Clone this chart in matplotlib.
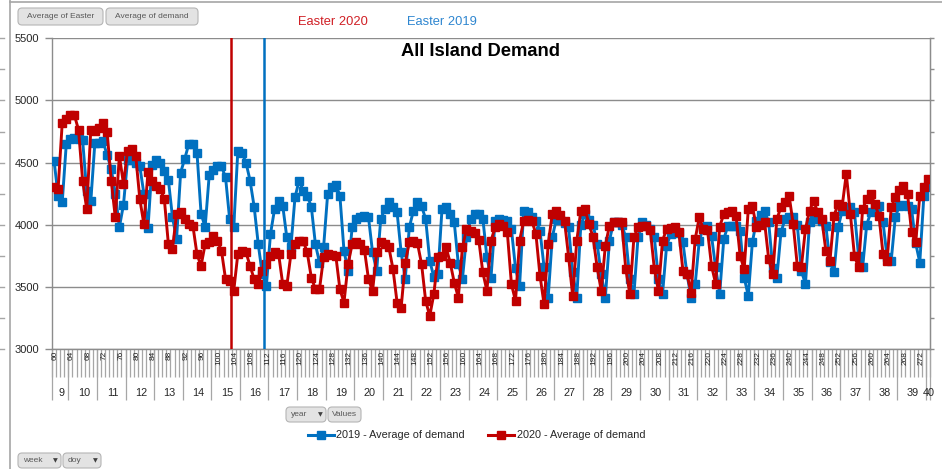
import matplotlib
matplotlib.use("Agg")
import matplotlib.pyplot as plt
from matplotlib.patches import FancyBboxPatch
from matplotlib.lines import Line2D
from matplotlib.collections import LineCollection

plt.rcParams['font.family'] = ['Liberation Sans', 'DejaVu Sans']

# ---------------- data ----------------
doy = list(range(60, 275))

demand_2019 = [
    4516, 4234, 4180, 4650, 4690, 4700, 4690, 4680, 4270, 4190,
    4660, 4660, 4670, 4560, 4450, 4250, 3980, 4160, 4520, 4520,
    4500, 4470, 4250, 3970, 4480, 4520, 4500, 4430, 4360, 4060,
    3885, 4420, 4530, 4650, 4650, 4580, 4090, 3980, 4400, 4440,
    4470, 4470, 4380, 4045, 3980, 4590, 4580, 4500, 4355, 4145,
    3845, 3600, 3510, 3925, 4126, 4194, 4153, 3898, 3820, 4220,
    4355, 4274, 4234, 4145, 3844, 3696, 3817, 4247, 4306, 4323,
    4234, 3790, 3629, 3979, 4046, 4059, 4073, 4060, 3777, 3629,
    4046, 4126, 4180, 4145, 4100, 3777, 3562, 3979, 4113, 4180,
    4150, 4046, 3710, 3580, 3602, 4126, 4140, 4086, 4019, 3683,
    3562, 3900, 4046, 4086, 4086, 4050, 3737, 3575, 4032, 4046,
    4040, 4032, 3965, 3650, 3508, 4113, 4100, 4060, 4032, 3950,
    3656, 3414, 3898, 4046, 4040, 4010, 3980, 3616, 3414, 4000,
    4086, 4040, 4000, 3844, 3600, 3414, 3871, 4019, 4019, 4000,
    3900, 3560, 3440, 3898, 4019, 4000, 3965, 3900, 3562, 3441,
    3831, 3925, 3950, 3930, 3858, 3600, 3414, 3522, 3871, 3978,
    3992, 3911, 3656, 3446, 3884, 3990, 3992, 3990, 3950, 3575,
    3427, 3858, 4032, 4080, 4113, 4019, 3650, 3575, 3938, 4046,
    4059, 4059, 4000, 3629, 3522, 4019, 4050, 4046, 4030, 3992,
    3700, 3616, 3978, 4113, 4130, 4140, 4100, 3750, 3656, 4000,
    4100, 4153, 4150, 4019, 3737, 3710, 4059, 4153, 4160, 4150,
    4126, 3850, 3696, 4234, 4300,
]

demand_2020 = [
    4300, 4290, 4817, 4852, 4879, 4879, 4763, 4355, 4126, 4763,
    4758, 4780, 4817, 4745, 4355, 4059, 4556, 4328, 4597, 4610,
    4556, 4207, 4005, 4422, 4355, 4315, 4288, 4207, 3844, 3804,
    4086, 4100, 4046, 4005, 3992, 3763, 3669, 3844, 3857, 3911,
    3871, 3790, 3562, 3548, 3468, 3763, 3790, 3777, 3669, 3562,
    3522, 3629, 3683, 3750, 3777, 3763, 3522, 3508, 3763, 3844,
    3871, 3871, 3777, 3575, 3481, 3481, 3737, 3763, 3760, 3750,
    3481, 3374, 3683, 3844, 3858, 3844, 3800, 3562, 3468, 3777,
    3858, 3844, 3817, 3643, 3374, 3333, 3696, 3858, 3871, 3850,
    3683, 3387, 3266, 3441, 3737, 3750, 3817, 3696, 3535, 3414,
    3817, 3965, 3952, 3930, 3880, 3616, 3468, 3871, 3978, 4005,
    3990, 3938, 3522, 3387, 3871, 4032, 4040, 4032, 3925, 3589,
    3360, 3844, 4086, 4113, 4080, 4032, 3742, 3427, 3871, 4113,
    4126, 4005, 3898, 3656, 3468, 3831, 3992, 4019, 4025, 4019,
    3643, 3441, 3898, 3978, 3992, 3992, 3960, 3643, 3468, 3871,
    3965, 3975, 3978, 3938, 3629, 3602, 3454, 3884, 4059, 3965,
    3960, 3670, 3527, 3984, 4086, 4100, 4113, 4073, 3750, 3643,
    4126, 4153, 3978, 4000, 4019, 3723, 3602, 4046, 4140, 4180,
    4234, 4005, 3670, 3661, 3965, 4113, 4194, 4100, 4046, 3790,
    3710, 4073, 4167, 4150, 4409, 4086, 3750, 3656, 4126, 4207,
    4247, 4167, 4073, 3763, 3710, 4140, 4220, 4280, 4314, 4247,
    3938, 3858, 4234, 4301, 4368,
]

easter_2020_doy = 103
easter_2019_doy = 111
y_ticks = [3000, 3500, 4000, 4500, 5000, 5500]
doy_tick_labels = doy[::4]
# Excel WEEKNUM of each day-of-year category
week_of_doy = [9 if d < 64 else 10 + (d - 64) // 7 for d in doy]

# ---------------- styling ----------------
BLUE = '#0070C0'
RED = '#C00000'
GRID = '#8C8C8C'
SEP = '#A6A6A6'
TXT = '#262626'

W, H = 942, 469
fig = plt.figure(figsize=(W / 100, H / 100), dpi=100)
fig.patch.set_facecolor('white')

def fx(x):
    return x / W

def fy(y):
    return 1 - y / H

# pixel-space overlay for decorations
bg = fig.add_axes([0, 0, 1, 1])
bg.set_xlim(0, W)
bg.set_ylim(H, 0)
bg.axis('off')
bg.patch.set_alpha(0)

PL, PR, PT, PB = 52, 930, 38.3, 349
ax = fig.add_axes([fx(PL), fy(PB), (PR - PL) / W, (PB - PT) / H])
ax.patch.set_alpha(0)

ax.plot(doy, demand_2019, color=BLUE, lw=2.1, marker='s', ms=6.0,
        mec=BLUE, mfc=BLUE, zorder=3, label='2019 - Average of demand')
ax.plot(doy, demand_2020, color=RED, lw=2.1, marker='s', ms=6.0,
        mec=RED, mfc=RED, zorder=4, label='2020 - Average of demand')
ax.axvline(easter_2020_doy + 0.3, color=RED, lw=1.8, zorder=5)
ax.axvline(easter_2019_doy + 0.3, color=BLUE, lw=1.8, zorder=5)

ax.set_xlim(59.5, 274.5)
ax.set_ylim(3000, 5500)
ax.set_yticks(y_ticks)
ax.set_yticklabels([str(v) for v in y_ticks])
ax.yaxis.grid(True, color=GRID, lw=1.0)
ax.set_axisbelow(True)
ax.set_xticks([])
ax.tick_params(axis='y', direction='out', length=5, width=1, color=GRID,
               labelsize=8, labelcolor=TXT, pad=4.2)
ax.spines['top'].set_visible(False)
for s in ['left', 'bottom', 'right']:
    ax.spines[s].set_color(GRID)
    ax.spines[s].set_linewidth(1.0)

# secondary axis ticks (Easter series axis, labels hidden)
ax2 = ax.twinx()
ax2.set_ylim(0, 10)
ax2.set_yticks(range(11))
ax2.set_yticklabels([])
ax2.tick_params(axis='y', direction='out', length=3, width=1, color=GRID)
for s in ['top', 'left', 'bottom']:
    ax2.spines[s].set_visible(False)
ax2.spines['right'].set_color(GRID)

# multi-level category axis
trans = ax.get_xaxis_transform()
ph = PB - PT
short = -(377 - PB) / ph
long_ = -(400 - PB) / ph
segs = []
for i in range(len(doy) + 1):
    b = doy[0] - 0.5 + i
    segs.append([(b, 0), (b, short)])
week_bounds = [doy[0] - 0.5]
for i in range(1, len(doy)):
    if week_of_doy[i] != week_of_doy[i - 1]:
        week_bounds.append(doy[i] - 0.5)
week_bounds.append(doy[-1] + 0.5)
for b in week_bounds:
    segs.append([(b, 0), (b, long_)])
lc = LineCollection(segs, colors=SEP, linewidths=0.9, transform=trans,
                    clip_on=False)
ax.add_collection(lc)

for d in doy_tick_labels:
    ax.text(d + 0.3, -(351 - PB) / ph, str(d), rotation=90, ha='center',
            va='top', fontsize=6.0, color=TXT, transform=trans, clip_on=False)

weeks = sorted(set(week_of_doy))
for w in weeks:
    ds = [d for d, k in zip(doy, week_of_doy) if k == w]
    c = (ds[0] + ds[-1]) / 2
    ax.text(c + 0.3, -(393 - PB) / ph, str(w), ha='center', va='center',
            fontsize=7.8, color=TXT, transform=trans, clip_on=False)

# ---------------- decorations ----------------
# outer chart border
bg.plot([10, 10], [0, H], color='#A6A6A6', lw=1.2)
bg.plot([10, W], [2, 2], color='#A6A6A6', lw=1.2)
for k in range(11):
    yy = PT + k * (PB - PT) / 10
    bg.plot([0, 4], [yy, yy], color='#A6A6A6', lw=1)

# titles
bg.text(333, 22, 'Easter 2020', color='#D01F25', fontsize=9.3,
        ha='center', va='center')
bg.text(442, 22, 'Easter 2019', color='#2E86D0', fontsize=9.3,
        ha='center', va='center')
bg.text(480.5, 52, 'All Island Demand', color='black', fontsize=13.2,
        weight='bold', ha='center', va='center')

# legend
bg.add_line(Line2D([308, 334], [435, 435], color=BLUE, lw=2.2))
bg.plot([321], [435], 's', ms=6.0, color=BLUE)
bg.text(336, 435, '2019 - Average of demand', fontsize=7.8, color=TXT,
        ha='left', va='center')
bg.add_line(Line2D([488, 514], [435, 435], color=RED, lw=2.2))
bg.plot([501], [435], 's', ms=6.0, color=RED)
bg.text(517, 435, '2020 - Average of demand', fontsize=7.8, color=TXT,
        ha='left', va='center')

# pivot field buttons
def button(x0, y0, x1, y1, label, arrow=False):
    p = FancyBboxPatch((x0, y0), x1 - x0, y1 - y0,
                       boxstyle='round,pad=0,rounding_size=4',
                       fc='#E3E3E3', ec='#B5B5B5', lw=0.8)
    bg.add_patch(p)
    if arrow:
        bg.text(x0 + 5, (y0 + y1) / 2, label, fontsize=6, color='#595959',
                ha='left', va='center')
        bg.text(x1 - 6, (y0 + y1) / 2 + 0.5, '\u25BC', fontsize=4.5,
                color='#404040', ha='center', va='center',
                family=['DejaVu Sans'])
    else:
        bg.text((x0 + x1) / 2, (y0 + y1) / 2, label, fontsize=6,
                color='#595959', ha='center', va='center')

button(18, 8, 103, 25, 'Average of Easter')
button(106, 8, 198, 25, 'Average of demand')
button(286, 407, 326, 422, 'year', arrow=True)
button(328, 407, 361, 422, 'Values')
button(18, 453, 61, 468, 'week', arrow=True)
button(63, 453, 101, 468, 'doy', arrow=True)

fig.savefig('out.png', dpi=100)
